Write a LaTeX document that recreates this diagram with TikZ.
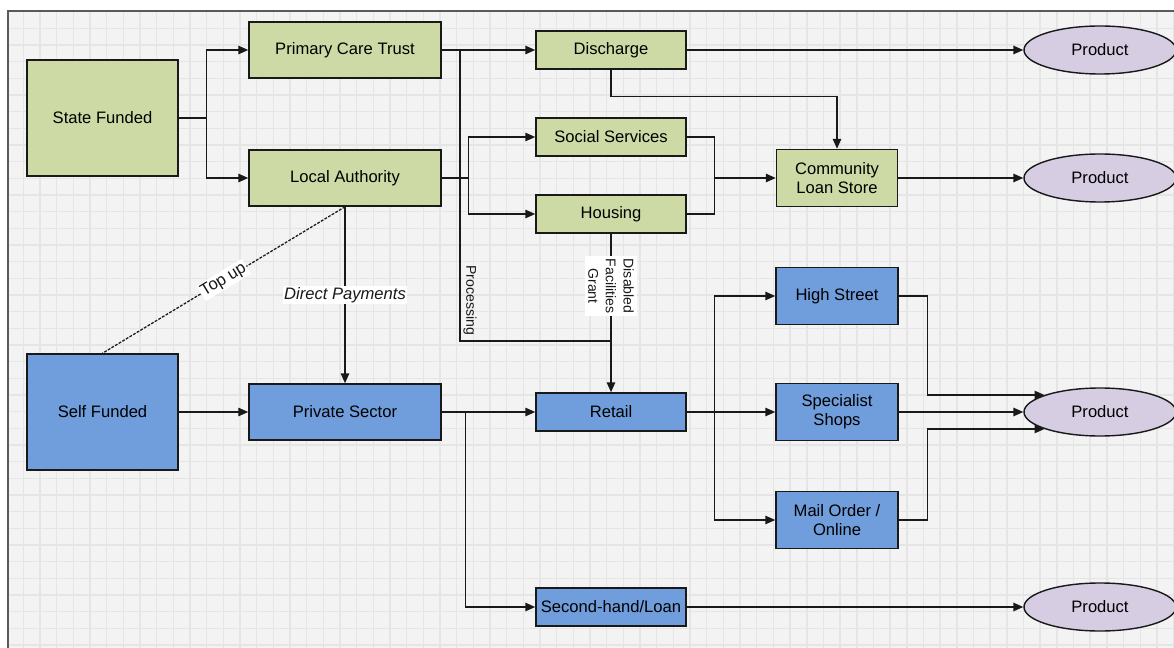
\documentclass[tikz,border=0pt]{standalone}
\usepackage{fontspec}
\setmainfont{Liberation Sans}
\usetikzlibrary{arrows.meta,shapes.geometric}
\definecolor{boxgreen}{RGB}{205,218,166}
\definecolor{boxblue}{RGB}{112,157,219}
\definecolor{prodlilac}{RGB}{214,205,226}
\definecolor{paper}{RGB}{243,243,243}
\definecolor{gridgray}{RGB}{229,229,229}
\definecolor{edgegray}{RGB}{90,90,90}
\newcommand{\boxfont}{\fontsize{11.8}{13.5}\selectfont}
\newcommand{\smallfont}{\fontsize{10}{12.5}\selectfont}
\begin{document}
\begin{tikzpicture}[x=0.025cm,y=-0.025cm,>={Triangle[length=7pt,width=6pt]},
  box/.style={draw=black!90,line width=1.1pt,font=\boxfont,align=center,inner sep=1pt},
  greenbox/.style={box,fill=boxgreen},
  bluebox/.style={box,fill=boxblue},
  product/.style={ellipse,draw=black!90,line width=1pt,fill=prodlilac,font=\boxfont,
    minimum width=3.8cm,minimum height=1.2cm,inner sep=0pt},
  flow/.style={line width=0.9pt,black!90},
  tag/.style={fill=white,inner sep=1pt,font=\boxfont,align=center}]
\useasboundingbox (0,0) rectangle (1174,648);
% paper and grid
\fill[paper] (8,11) rectangle (1200,670);
\foreach \gx in {23.3,39.97,...,1174} \draw[gridgray,line width=1pt] (\gx,12) -- (\gx,648);
\foreach \gy in {28.3,44.97,...,648} \draw[gridgray,line width=1pt] (9,\gy) -- (1174,\gy);
\draw[edgegray,line width=1.2pt] (8,670) -- (8,11) -- (1200,11);

% state side
\node[greenbox,minimum width=3.775cm,minimum height=2.9cm] (state) at (102.5,118) {State Funded};
\node[greenbox,minimum width=4.8cm,minimum height=1.4cm] (pct) at (345,50) {Primary Care Trust};
\node[greenbox,minimum width=4.8cm,minimum height=1.4cm] (la) at (345,178) {Local Authority};
\node[greenbox,minimum width=3.75cm,minimum height=0.95cm] (dis) at (611,50) {Discharge};
\node[greenbox,minimum width=3.75cm,minimum height=0.95cm] (soc) at (611,137) {Social Services};
\node[greenbox,minimum width=3.75cm,minimum height=0.95cm] (hou) at (611,214) {Housing};
\node[greenbox,minimum width=3.025cm,minimum height=1.425cm] (cls) at (837,178) {Community\\Loan Store};

% self side
\node[bluebox,minimum width=3.775cm,minimum height=2.9cm] (self) at (102.5,412) {Self Funded};
\node[bluebox,minimum width=4.8cm,minimum height=1.4cm] (ps) at (345,412) {Private Sector};
\node[bluebox,minimum width=3.75cm,minimum height=0.95cm] (ret) at (611,412) {Retail};
\node[bluebox,minimum width=3.75cm,minimum height=0.95cm] (shl) at (611,607) {Second-hand/Loan};
\node[bluebox,minimum width=3.05cm,minimum height=1.425cm] (hs) at (837,296) {High Street};
\node[bluebox,minimum width=3.05cm,minimum height=1.425cm] (ss) at (837,412) {Specialist\\Shops};
\node[bluebox,minimum width=3.05cm,minimum height=1.425cm] (mo) at (837,520) {Mail Order /\\Online};

% products
\node[product] (p1) at (1100,50) {Product};
\node[product] (p2) at (1100,178) {Product};
\node[product] (p3) at (1100,412) {Product};
\node[product] (p4) at (1100,607) {Product};

% connectors
\draw[flow,->] (state.east) -- ++(28,0) |- (pct.west);
\draw[flow,->] (state.east) -- ++(28,0) |- (la.west);
\draw[flow,->] (pct.east) -- (dis.west);
\coordinate (proctop) at (460,50);
\coordinate (procjoin) at (611,341);
\draw[flow] (proctop) -- node[pos=.86,rotate=-90,anchor=south,inner sep=2pt,font=\smallfont] {Processing} (proctop |- procjoin) -- (procjoin);
\draw[flow,->] (la.east) -- ++(27,0) |- (soc.west);
\draw[flow,->] (la.east) -- ++(27,0) |- (hou.west);
\draw[flow] (soc.east) -- ++(28,0) coordinate (merge) |- (hou.east);
\draw[flow,->] (merge) |- (cls.west);
\draw[flow,->] (dis.south) -- ++(0,27) -| (cls.north);
\draw[flow,->] (dis.east) -- (p1.west);
\draw[flow,->] (cls.east) -- (p2.west);
\draw[flow,->] (hou.south) -- node[tag,pos=.33,rotate=-90,font=\smallfont,inner sep=2pt] {Disabled\\Facilities\\Grant} (ret.north);
\draw[flow,->] (la.south) -- node[tag,pos=.5] {\itshape Direct Payments} (ps.north);
\draw[flow,dashed,dash pattern=on 2pt off 1pt] (la.south) -- node[tag,sloped,pos=.5] {Top up} (self.north);
\draw[flow,->] (self.east) -- (ps.west);
\draw[flow,->] (ps.east) -- (ret.west);
\draw[flow,->] (ps.east) -- ++(24,0) |- (shl.west);
\draw[flow,->] (ret.east) -- ++(28,0) coordinate (fork) |- (hs.west);
\draw[flow,->] (fork) |- (mo.west);
\draw[flow,->] (ret.east) -- (ss.west);
\draw[flow,->] (hs.east) -- ++(29,0) |- (p3.163);
\draw[flow,->] (ss.east) -- (p3.west);
\draw[flow,->] (mo.east) -- ++(29,0) |- (p3.197);
\draw[flow,->] (shl.east) -- (p4.west);
\end{tikzpicture}
\end{document}
